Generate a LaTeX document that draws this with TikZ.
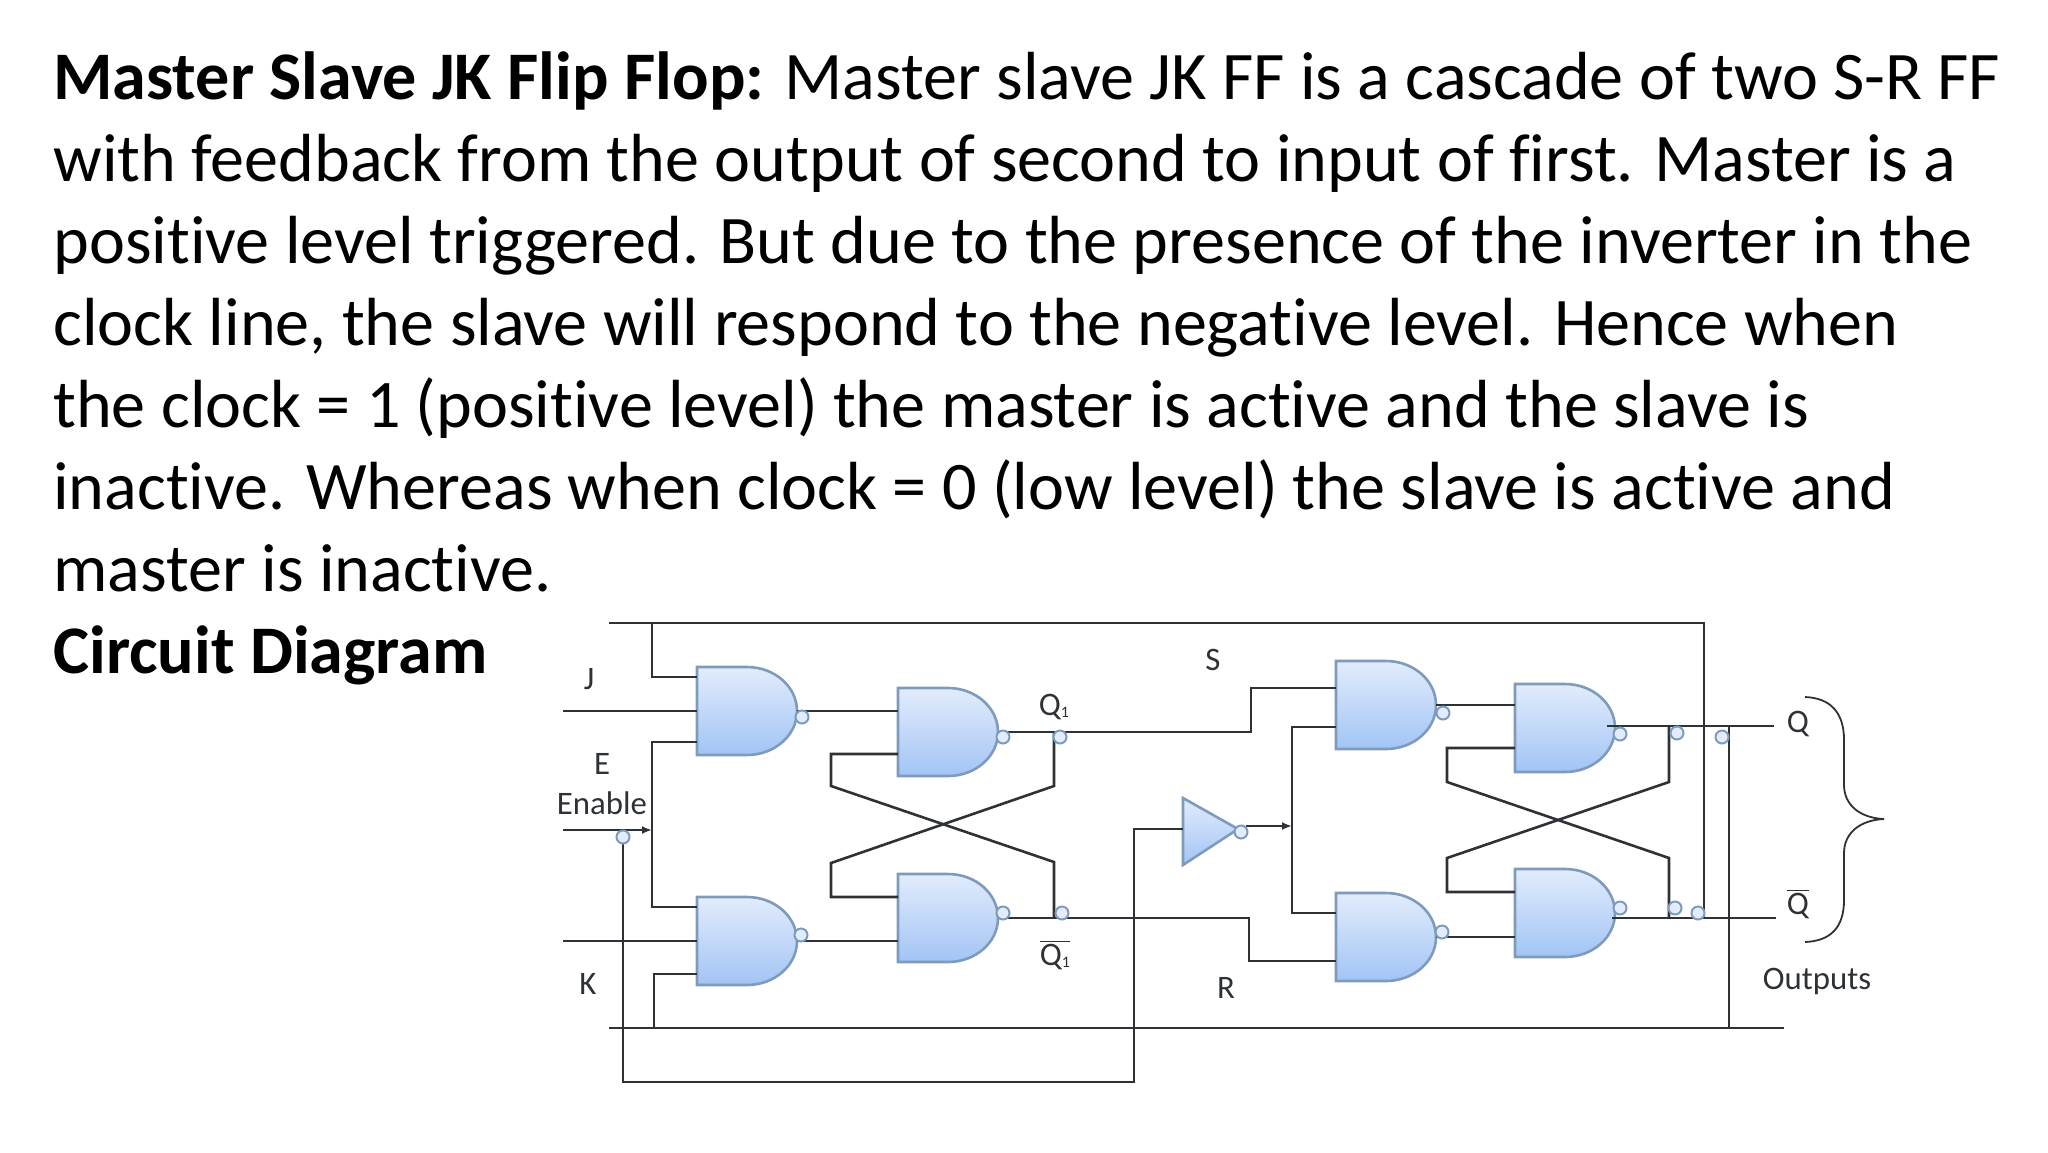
\documentclass[tikz,border=0pt]{standalone}
\usepackage{fontspec}
\setmainfont{Carlito}[Ligatures=NoCommon]
\usepackage{tikz}
\usetikzlibrary{arrows.meta, positioning, decorations.pathmorphing}

\definecolor{gatetop}{HTML}{E2ECFC}
\definecolor{gatebottom}{HTML}{A2C4F5}
\definecolor{gateline}{HTML}{7E9BBB}
\definecolor{wirecolor}{HTML}{2E3236}

\tikzset{
    wire/.style={draw=wirecolor, line width=1.3pt},
    thinwire/.style={draw=wirecolor, line width=0.9pt},
    gatebox/.style={minimum width=50pt, minimum height=44pt, inner sep=0pt, outer sep=0pt},
    gatebody/.style={top color=gatetop, bottom color=gatebottom, draw=gateline, line width=1.3pt},
    bubble/.style={circle, fill=gatetop, draw=gateline, line width=1pt, minimum width=6.5pt, inner sep=0pt},
    tag/.style={font=\fontsize{16.4}{18}\selectfont, text=wirecolor, inner sep=0pt}
}

\newcommand{\nandgate}[2]{
    \node[gatebox] (#1) at (#2) {};
    \path[gatebody] (#1.south west) -- (#1.north west) -- (#1.north)
        arc[start angle=90, end angle=-90, x radius=25pt, y radius=22pt] -- cycle;
}
\newcommand{\qone}{Q\raisebox{-1pt}{\fontsize{8}{8}\selectfont 1}}

\begin{document}
\begin{tikzpicture}[x=0.5pt, y=-0.5pt]
    \useasboundingbox (0,0) rectangle (2048,1152);

    % Text
    \node[anchor=north west, align=left, inner sep=0pt, font=\fontsize{34.05}{41}\selectfont, text=black] (para) at (53,51) {%
        \textbf{Master Slave JK Flip Flop:} Master slave JK FF is a cascade of two S-R FF\\
        with feedback from the output of second to input of first. Master is a\\
        positive level triggered. But due to the presence of the inverter in the\\
        clock line, the slave will respond to the negative level. Hence when\\
        the clock = 1 (positive level) the master is active and the slave is\\
        inactive. Whereas when clock = 0 (low level) the slave is active and\\
        master is inactive.\\
        \textbf{Circuit Diagram}};

    % Gates
    \nandgate{gj}{747,711}
    \nandgate{gq}{948,732}
    \nandgate{gqb}{948,918}
    \nandgate{gk}{747,941}
    \nandgate{gs}{1386,705}
    \nandgate{gout}{1565,728}
    \nandgate{gr}{1386,937}
    \nandgate{goutb}{1565,913}

    % Inverter
    \coordinate (invin) at (1183,829);
    \coordinate (invout) at (1238,829);
    \path[gatebody] (1183,798) -- (invout) -- (1183,865) -- cycle;

    % Feedback Lines
    \coordinate (fba) at (609,623);
    \coordinate (fbb) at (1704,623);
    \coordinate (fbc) at (1704,918);
    \coordinate (fbj) at (652,677);
    \coordinate (fbk) at (654,974);
    \coordinate (bota) at (609,1028);
    \coordinate (botb) at (1784,1028);
    \draw[wire] (fba) -- (fbb) -- (fbc);
    \draw[wire] (fbj |- fba) -- (fbj) -- (fbj -| gj.west);
    \draw[wire] (bota) -- (botb);
    \draw[wire] (fbk -| gk.west) -- (fbk) -- (fbk |- bota);
    \draw[thinwire] (1729,726) -- (1729,1028);

    % Inputs
    \coordinate (jin) at (563,711);
    \coordinate (kin) at (563,941);
    \coordinate (enin) at (563,830);
    \coordinate (ena) at (652,742);
    \coordinate (enb) at (652,907);
    \draw[wire] (jin) -- (gj.west);
    \draw[wire] (kin) -- (gk.west);
    \draw[wire, -{Latex[length=5pt, width=4pt]}] (enin) -- (enin -| ena);
    \draw[wire] (ena -| gj.west) -- (ena) -- (enb) -- (enb -| gk.west);

    % Clock Line
    \coordinate (clka) at (623,1082);
    \coordinate (clkb) at (1134,1082);
    \draw[wire] (623,837) -- (clka) -- (clkb) -- (clkb |- invin) -- (invin);
    \draw[wire, -{Latex[length=5pt, width=4pt]}] (1246,826) -- (1292,826);
    \coordinate (sra) at (1292,727);
    \coordinate (srb) at (1292,913);
    \draw[wire] (sra -| gs.west) -- (sra) -- (srb) -- (srb -| gr.west);

    % Master Latch
    \draw[wire] (gj.east) -- (gj.east -| gq.west);
    \draw[wire] (gk.east) -- (gk.east -| gqb.west);
    \coordinate (ma) at (831,754);
    \coordinate (mb) at (831,786);
    \coordinate (mc) at (1054,862);
    \coordinate (md) at (831,897);
    \coordinate (me) at (831,863);
    \coordinate (mf) at (1054,786);
    \draw[wire] (ma -| gq.west) -- (ma) -- (mb) -- (mc) -- (mc |- gqb.east);
    \draw[wire] (md -| gqb.west) -- (md) -- (me) -- (mf) -- (mf |- gq.east);

    % Master to Slave
    \coordinate (sjog) at (1251,688);
    \coordinate (rjog) at (1249,961);
    \draw[wire] (gq.east) -- (sjog |- gq.east) -- (sjog) -- (sjog -| gs.west);
    \draw[wire] (gqb.east) -- (rjog |- gqb.east) -- (rjog) -- (rjog -| gr.west);

    % Slave Latch
    \draw[wire] (gs.east) -- (gs.east -| gout.west);
    \draw[wire] (gr.east) -- (gr.east -| goutb.west);
    \coordinate (sa) at (1447,748);
    \coordinate (sb) at (1447,782);
    \coordinate (sc) at (1669,858);
    \coordinate (sd) at (1447,892);
    \coordinate (se) at (1447,858);
    \coordinate (sf) at (1669,782);
    \draw[wire] (sa -| gout.west) -- (sa) -- (sb) -- (sc) -- (1669,918);
    \draw[wire] (sd -| goutb.west) -- (sd) -- (se) -- (sf) -- (1669,726);

    % Outputs
    \coordinate (qa) at (1607,726);
    \coordinate (qb) at (1774,726);
    \coordinate (qc) at (1612,918);
    \coordinate (qd) at (1776,918);
    \draw[wire] (qa) -- (qb);
    \draw[wire] (qc) -- (qd);

    % Output bubbles
    \node[bubble] (bj) at (802,717) {};
    \node[bubble] (bq) at (1003,737) {};
    \node[bubble] (bqb) at (1003,913) {};
    \node[bubble] (bk) at (801,935) {};
    \node[bubble] (bs) at (1443,713) {};
    \node[bubble] (bout) at (1620,734) {};
    \node[bubble] (br) at (1442,932) {};
    \node[bubble] (boutb) at (1620,908) {};
    \node[bubble] (binv) at (1241,832) {};

    % Junction bubbles
    \node[bubble] (ben) at (623,837) {};
    \node[bubble] (cq) at (1060,737) {};
    \node[bubble] (cqb) at (1062,913) {};
    \node[bubble] (cout) at (1677,733) {};
    \node[bubble] (coutb) at (1675,908) {};
    \node[bubble] (cfb) at (1698,913) {};
    \node[bubble] (cbus) at (1722,737) {};

    % Brace
    \draw[thinwire] (1805,697) .. controls (1830,698) and (1844,712) .. (1844,740)
        -- (1844,785) .. controls (1844,805) and (1860,818) .. (1884,819)
        .. controls (1860,820) and (1844,833) .. (1844,853)
        -- (1844,900) .. controls (1844,928) and (1830,941) .. (1805,942);

    % Labels
    \node[tag] (lj) at (589,679) {J};
    \node[tag] (le) at (602,764) {E};
    \node[tag] (lenable) at (602,803) {Enable};
    \node[tag] (lk) at (588,984) {K};
    \node[tag] (lq1) at (1054,707) {\qone};
    \node[tag] (lqb1) at (1055,955) {$\overline{\mbox{\qone}}$};
    \node[tag] (ls) at (1213,660) {S};
    \node[tag] (lr) at (1226,988) {R};
    \node[tag] (lq) at (1798,724) {Q};
    \node[tag] (lqb) at (1798,904) {$\overline{\mbox{Q}}$};
    \node[tag] (lout) at (1817,981) {Outputs};
\end{tikzpicture}
\end{document}
